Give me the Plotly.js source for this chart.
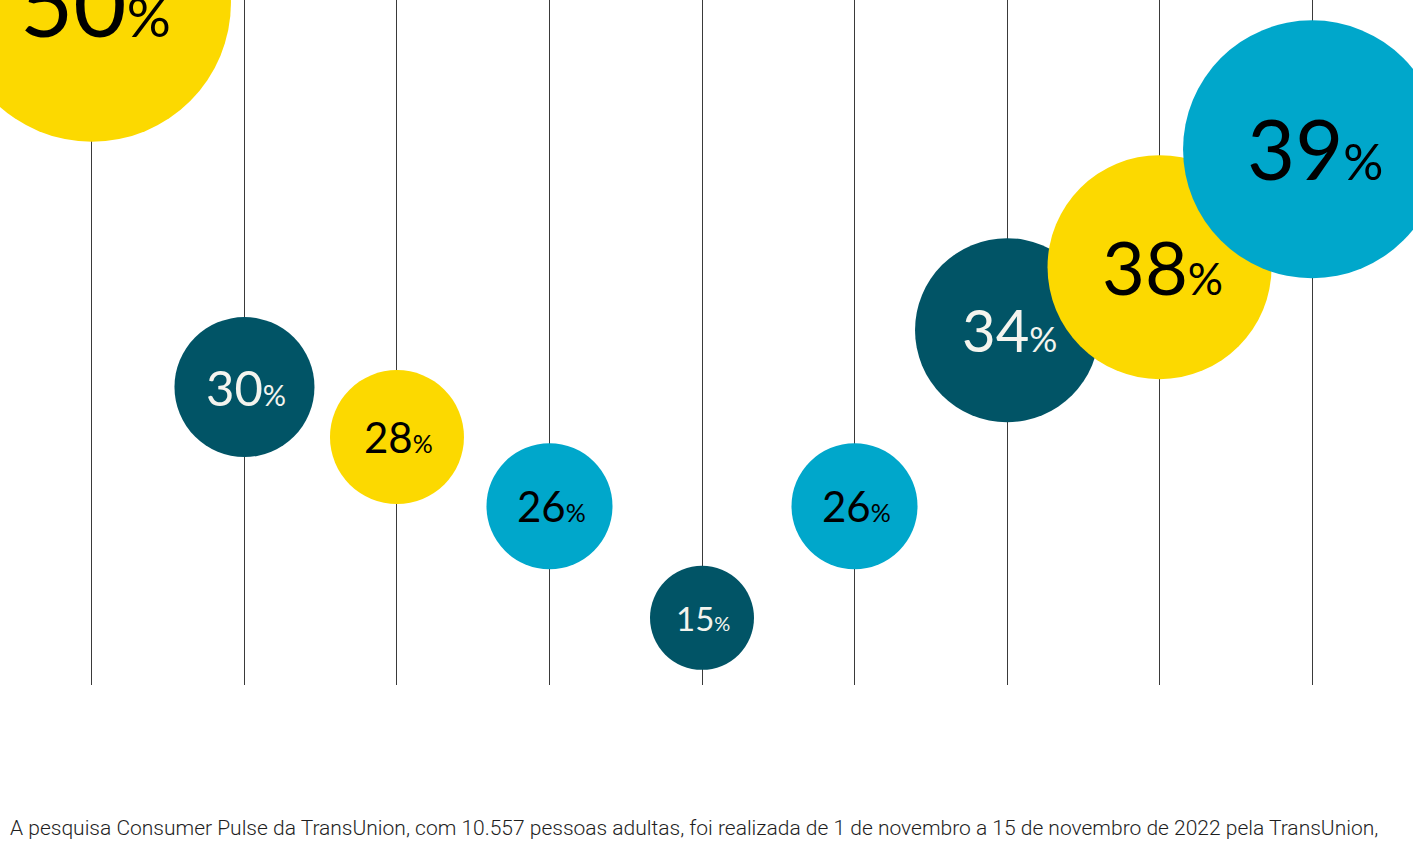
<!DOCTYPE html>
<html><head><meta charset="utf-8">
<script src="https://cdn.plot.ly/plotly-3.0.1.min.js"></script>
<style>html,body{margin:0;padding:0;background:#fff;overflow:hidden}#chart{width:1413px;height:843px}</style>
</head><body><div id="chart"></div>
<script>
// ---- data ----
const categories = [0, 1, 2, 3, 4, 5, 6, 7, 8];
const values = [50, 30, 28, 26, 15, 26, 34, 38, 39];
const levels = [99.6, 43.5, 36.2, 26.1, 9.8, 26.1, 51.8, 61.0, 78.2];
const footnote = "A pesquisa Consumer Pulse da TransUnion, com 10.557 pessoas adultas, foi realizada de 1 de novembro a 15 de novembro de 2022 pela TransUnion,";

// ---- styles ----
const YEL = '#FCD900', BLU = '#00A7CB', DRK = '#015466';
const colors = [YEL, DRK, YEL, BLU, DRK, BLU, DRK, YEL, BLU];
const diameters = [278, 140, 134, 126, 104, 126, 184, 224, 258];
const digitSizes = [92, 49, 42, 42, 33, 42, 58, 74, 83];
const textColors = colors.map(c => c === DRK ? '#F4F4EE' : '#000000');

const trace = {
  type: 'scatter', mode: 'markers',
  x: categories, y: levels,
  marker: { size: diameters, sizemode: 'diameter', color: colors, opacity: 1, line: { width: 0 } },
  hoverinfo: 'skip', cliponaxis: true
};

const labelAnns = values.map((v, i) => ({
  x: categories[i], y: levels[i], xref: 'x', yref: 'y',
  text: v + '<span style="font-size:' + Math.round(digitSizes[i] * 0.6) + 'px">%</span>',
  showarrow: false, xanchor: 'center', yanchor: 'middle',
  xshift: Math.round(digitSizes[i] * 0.04), yshift: Math.round(digitSizes[i] * 0.01),
  font: { family: 'Lato, sans-serif', size: digitSizes[i], color: textColors[i] }
}));

const layout = {
  width: 1413, height: 843,
  margin: { l: 0, r: 0, t: 0, b: 158, pad: 0 },
  paper_bgcolor: '#ffffff', plot_bgcolor: '#ffffff',
  showlegend: false,
  xaxis: { range: [-0.603, 8.662], tickvals: categories, showticklabels: false, ticks: '',
           showgrid: true, gridcolor: '#3a3a3a', gridwidth: 1, zeroline: false, showline: false, fixedrange: true },
  yaxis: { range: [0, 100], showgrid: false, showticklabels: false, ticks: '', zeroline: false, showline: false, fixedrange: true },
  annotations: labelAnns.concat([{
    text: footnote, xref: 'paper', yref: 'paper', x: 0, y: -0.2088,
    xanchor: 'left', yanchor: 'middle', xshift: 8, showarrow: false,
    font: { family: 'Roboto, sans-serif', size: 21, weight: 300, color: '#1e1e1e' }
  }])
};

Plotly.newPlot('chart', [trace], layout, { displayModeBar: false, staticPlot: true });
</script>
</body></html>
